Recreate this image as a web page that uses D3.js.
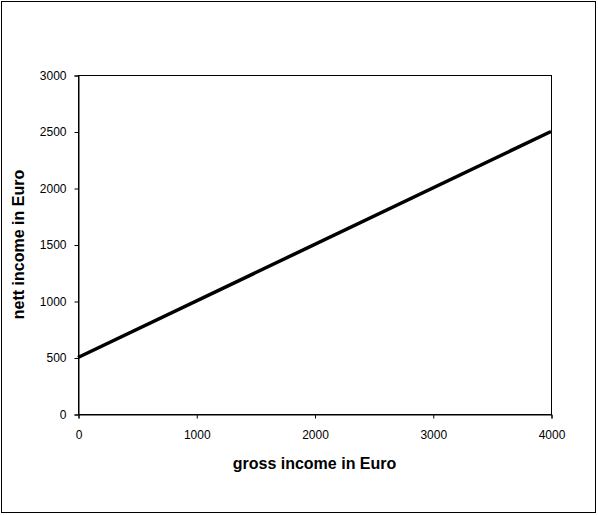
<!DOCTYPE html>
<html>
<head>
<meta charset="utf-8">
<script src="https://cdn.jsdelivr.net/npm/d3@7"></script>
<style>
  body { margin: 0; background: #fff; }
  text { font-family: "Liberation Sans", Arial, sans-serif; }
</style>
</head>
<body>
<div id="chart"></div>
<script>
// gross -> nett income
var gross = [0, 4000];
var nett = [500, 2500];
var xTicks = [0, 1000, 2000, 3000, 4000];
var yTicks = [0, 500, 1000, 1500, 2000, 2500, 3000];

var W = 598, H = 515;
var margin = { top: 75, left: 78, right: 47, bottom: 101 };
var w = W - margin.left - margin.right,
    h = H - margin.top - margin.bottom;

var svg = d3.select("#chart").append("svg")
    .attr("width", W)
    .attr("height", H);

// outer frame
svg.append("rect")
    .attr("x", 1.5).attr("y", 1.5)
    .attr("width", 594).attr("height", 511)
    .attr("fill", "none").attr("stroke", "#000").attr("stroke-width", 1);

var g = svg.append("g")
    .attr("transform", "translate(" + margin.left + "," + margin.top + ")");

var x = d3.scaleLinear().domain([0, 4000]).range([0, w]);
var y = d3.scaleLinear().domain([0, 3000]).range([h, 0]);
var fmt = d3.format("d");

// plot frame
g.append("rect")
    .attr("x", 0.5).attr("y", 0.5)
    .attr("width", w).attr("height", h)
    .attr("fill", "none").attr("stroke", "#000");

var xAxis = g.append("g")
    .attr("transform", "translate(0.5," + (h + 0.5) + ")")
    .call(d3.axisBottom(x).tickValues(xTicks).tickFormat(fmt).tickSize(4).tickPadding(12));
var yAxis = g.append("g")
    .attr("transform", "translate(0.5,0.5)")
    .call(d3.axisLeft(y).tickValues(yTicks).tickFormat(fmt).tickSize(4).tickPadding(8));

[xAxis, yAxis].forEach(function(a){
  a.select(".domain").attr("stroke", "#000");
  a.selectAll(".tick line").attr("stroke", "#000");
  a.selectAll(".tick text")
    .attr("fill", "#000")
    .style("font-size", "12px")
    .style("font-family", "'Liberation Sans', Arial, sans-serif");
});

var pts = gross.map(function(d, i){ return [d, nett[i]]; });
g.append("path")
    .datum(pts)
    .attr("fill", "none")
    .attr("stroke", "#000")
    .attr("stroke-width", 3.5)
    .attr("d", d3.line()
      .x(function(d){ return x(d[0]); })
      .y(function(d){ return y(d[1]); }));

// axis titles
svg.append("text")
    .attr("x", margin.left + w / 2)
    .attr("y", 469)
    .attr("text-anchor", "middle")
    .style("font-size", "16px")
    .style("font-weight", "bold")
    .text("gross income in Euro");

svg.append("text")
    .attr("transform", "translate(24," + (margin.top + h / 2) + ") rotate(-90)")
    .attr("text-anchor", "middle")
    .style("font-size", "16px")
    .style("font-weight", "bold")
    .text("nett income in Euro");
</script>
</body>
</html>
